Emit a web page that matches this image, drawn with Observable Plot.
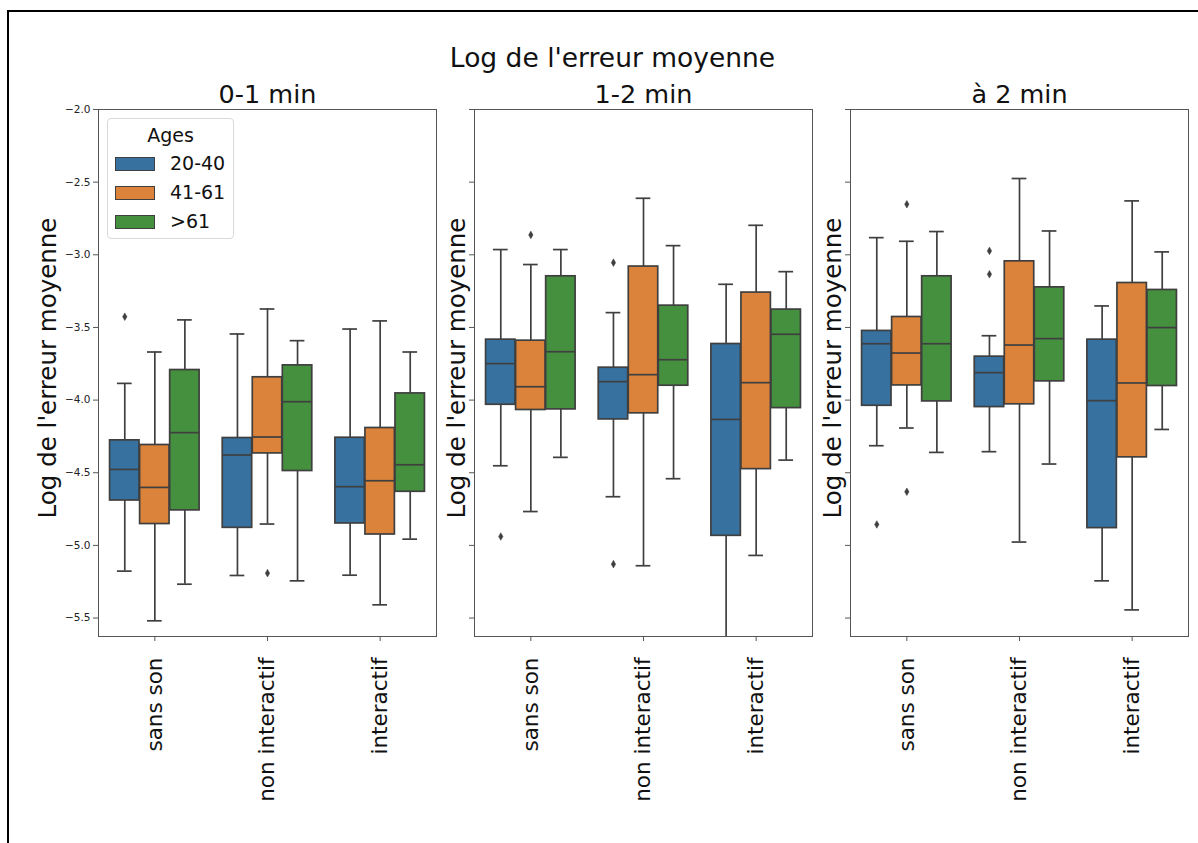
<!DOCTYPE html>
<html><head><meta charset="utf-8">
<script src="https://cdn.jsdelivr.net/npm/d3@7"></script>
<script src="https://cdn.jsdelivr.net/npm/@observablehq/plot@0.6"></script>
<style>
body{margin:0;background:#fff;font-family:"DejaVu Sans",sans-serif;}
#wrap{position:relative;width:1198px;height:843px;overflow:hidden;background:#fff;}
#border{position:absolute;left:7px;top:10px;width:1400px;height:1000px;border-top:2px solid #000;border-left:2px solid #000;}
#title{position:absolute;left:0;width:1225px;text-align:center;top:45px;font-size:26.5px;line-height:26px;color:#111;}
#chart{position:absolute;left:0;top:0;}
#legend{position:absolute;left:107px;top:118px;width:127px;height:121px;box-sizing:border-box;border:1px solid #d9d9d9;border-radius:4px;background:rgba(255,255,255,0.85);}
#legend .t{position:absolute;left:0;width:100%;text-align:center;font-size:19px;color:#111;}
#legend .sw{position:absolute;left:7px;width:40px;height:14px;border:1px solid #3f3f3f;box-sizing:border-box;}
#legend .lb{position:absolute;left:62px;font-size:19px;line-height:19px;color:#111;}
</style>
</head><body>
<div id="wrap">
  <div id="border"></div>
  <div id="chart"></div>
  <div id="title"></div>
  <div id="legend"></div>
</div>
<script>
const suptitle = "Log de l'erreur moyenne";
const yLabel = "Log de l'erreur moyenne";
const legendTitle = "Ages";
const panels = ["0-1 min", "1-2 min", "à 2 min"];
const conditions = ["sans son", "non interactif", "interactif"];
const ages = ["20-40", "41-61", ">61"];
const colors = ["#3671a0", "#db833a", "#45903f"];
const yTicks = [-5.5, -5.0, -4.5, -4.0, -3.5, -3.0, -2.5, -2.0];
const yDomain = [-5.627, -2.0];

// order: panel -> condition -> age
const whiskerLow = [
  -5.177, -5.519, -5.267,  -5.207, -4.853, -5.244,  -5.205, -5.409, -4.957,
  -4.452, -4.767, -4.394,  -4.665, -5.140, -4.541,  -5.750, -5.069, -4.413,
  -4.314, -4.192, -4.360,  -4.355, -4.977, -4.440,  -5.244, -5.444, -4.202
];
const q1 = [
  -4.691, -4.853, -4.759,  -4.879, -4.367, -4.488,  -4.849, -4.925, -4.631,
  -4.032, -4.068, -4.064,  -4.133, -4.091, -3.901,  -4.934, -4.475, -4.055,
  -4.039, -3.899, -4.009,  -4.048, -4.029, -3.871,  -4.881, -4.394, -3.903
];
const median = [
  -4.477, -4.601, -4.224,  -4.378, -4.254, -4.011,  -4.596, -4.555, -4.445,
  -3.749, -3.908, -3.667,  -3.873, -3.825, -3.722,  -4.133, -3.880, -3.547,
  -3.612, -3.676, -3.612,  -3.811, -3.621, -3.577,  -4.004, -3.882, -3.501
];
const q3 = [
  -4.277, -4.309, -3.793,  -4.261, -3.843, -3.761,  -4.259, -4.192, -3.954,
  -3.584, -3.591, -3.148,  -3.777, -3.081, -3.350,  -3.614, -3.260, -3.377,
  -3.524, -3.428, -3.148,  -3.701, -3.045, -3.224,  -3.584, -3.194, -3.242
];
const whiskerHigh = [
  -3.885, -3.669, -3.448,  -3.545, -3.373, -3.591,  -3.511, -3.455, -3.669,
  -2.964, -3.067, -2.964,  -3.398, -2.611, -2.937,  -3.203, -2.797, -3.116,
  -2.882, -2.907, -2.840,  -3.557, -2.475, -2.836,  -3.352, -2.629, -2.980
];
const outlierPanel     = [0, 0, 1, 1, 1, 1, 2, 2, 2, 2, 2];
const outlierCondition = [0, 1, 0, 0, 1, 1, 0, 0, 0, 1, 1];
const outlierAge       = [0, 1, 0, 1, 0, 0, 0, 1, 1, 0, 0];
const outlierValue     = [-3.426, -5.191, -4.939, -2.863, -3.054, -5.129, -4.856, -2.652, -4.631, -2.973, -3.134];

const gray = "#3f3f3f";
const groupWidth = 0.8;
const boxWidth = groupWidth / ages.length * 0.98;
const dodge = (c, a) => c + (a - (ages.length - 1) / 2) * groupWidth / ages.length;

const rows = whiskerLow.map((_, i) => {
  const p = Math.floor(i / 9), c = Math.floor(i / 3) % 3, a = i % 3;
  const pos = dodge(c, a);
  return {
    panel: panels[p], condition: conditions[c], age: ages[a], pos,
    x1: pos - boxWidth / 2, x2: pos + boxWidth / 2,
    c1: pos - boxWidth / 4, c2: pos + boxWidth / 4,
    low: whiskerLow[i], q1: q1[i], median: median[i], q3: q3[i], high: whiskerHigh[i]
  };
});
const outliers = outlierValue.map((v, i) => ({
  panel: panels[outlierPanel[i]], pos: dodge(outlierCondition[i], outlierAge[i]), value: v
}));

const lw = 1.7;
const chart = Plot.plot({
  width: 1198, height: 843,
  marginLeft: 97, marginRight: 10, marginTop: 109, marginBottom: 207,
  style: {fontFamily: "DejaVu Sans", background: "transparent", color: "#111"},
  fx: {domain: panels, paddingInner: 0.1017, paddingOuter: 0, axis: null, label: null},
  x: {domain: [-0.5, 2.5], axis: null},
  y: {domain: yDomain, axis: null},
  color: {domain: ages, range: colors},
  marks: [
    Plot.ruleX(rows, {fx: "panel", x: "pos", y1: "low", y2: "q1", stroke: gray, strokeWidth: lw, clip: true}),
    Plot.ruleX(rows, {fx: "panel", x: "pos", y1: "q3", y2: "high", stroke: gray, strokeWidth: lw, clip: true}),
    Plot.ruleY(rows, {fx: "panel", y: "low", x1: "c1", x2: "c2", stroke: gray, strokeWidth: lw, clip: true}),
    Plot.ruleY(rows, {fx: "panel", y: "high", x1: "c1", x2: "c2", stroke: gray, strokeWidth: lw, clip: true}),
    Plot.rect(rows, {fx: "panel", x1: "x1", x2: "x2", y1: "q1", y2: "q3", fill: "age", stroke: gray, strokeWidth: lw}),
    Plot.ruleY(rows, {fx: "panel", y: "median", x1: "x1", x2: "x2", stroke: gray, strokeWidth: lw}),
    Plot.dot(outliers, {fx: "panel", x: "pos", y: "value", symbol: "diamond", r: 2.3, fill: gray, stroke: gray, strokeWidth: 0.5}),
    Plot.frame({stroke: "#555", strokeWidth: 1}),
    Plot.axisY({ticks: yTicks, tickFormat: () => "", facetAnchor: null, tickSize: 5, stroke: "#555", label: null}),
    Plot.axisY({ticks: yTicks, tickFormat: d3.format(".1f"), tickSize: 0, tickPadding: 8, fontSize: 10.5, fill: "#222", label: null}),
    Plot.axisX({ticks: [0, 1, 2], tickFormat: i => conditions[i], tickRotate: -90, tickSize: 5, stroke: "#555", tickPadding: 16, fontSize: 21.5, fill: "#111", label: null}),
    Plot.text(panels, {fx: d => d, text: d => d, frameAnchor: "top", lineAnchor: "bottom", dy: -7, fontSize: 25.5, fill: "#111"}),
    Plot.text([panels[0]], {fx: d => d, text: () => yLabel, frameAnchor: "left", textAnchor: "middle", rotate: -90, dx: -50, dy: -5, fontSize: 24.5, fill: "#111"}),
    Plot.text(panels.slice(1), {fx: d => d, text: () => yLabel, frameAnchor: "left", textAnchor: "middle", rotate: -90, dx: -17, dy: -5, fontSize: 24.5, fill: "#111"})
  ]
});
document.getElementById("chart").appendChild(chart);
document.getElementById("title").textContent = suptitle;

const lg = document.getElementById("legend");
const t = document.createElement("div");
t.className = "t"; t.style.top = "5px"; t.textContent = legendTitle;
lg.appendChild(t);
ages.forEach((a, i) => {
  const sw = document.createElement("div");
  sw.className = "sw"; sw.style.top = (38 + i * 29) + "px"; sw.style.background = colors[i];
  lg.appendChild(sw);
  const lb = document.createElement("div");
  lb.className = "lb"; lb.style.top = (35 + i * 29) + "px"; lb.textContent = a;
  lg.appendChild(lb);
});
</script>
</body></html>
